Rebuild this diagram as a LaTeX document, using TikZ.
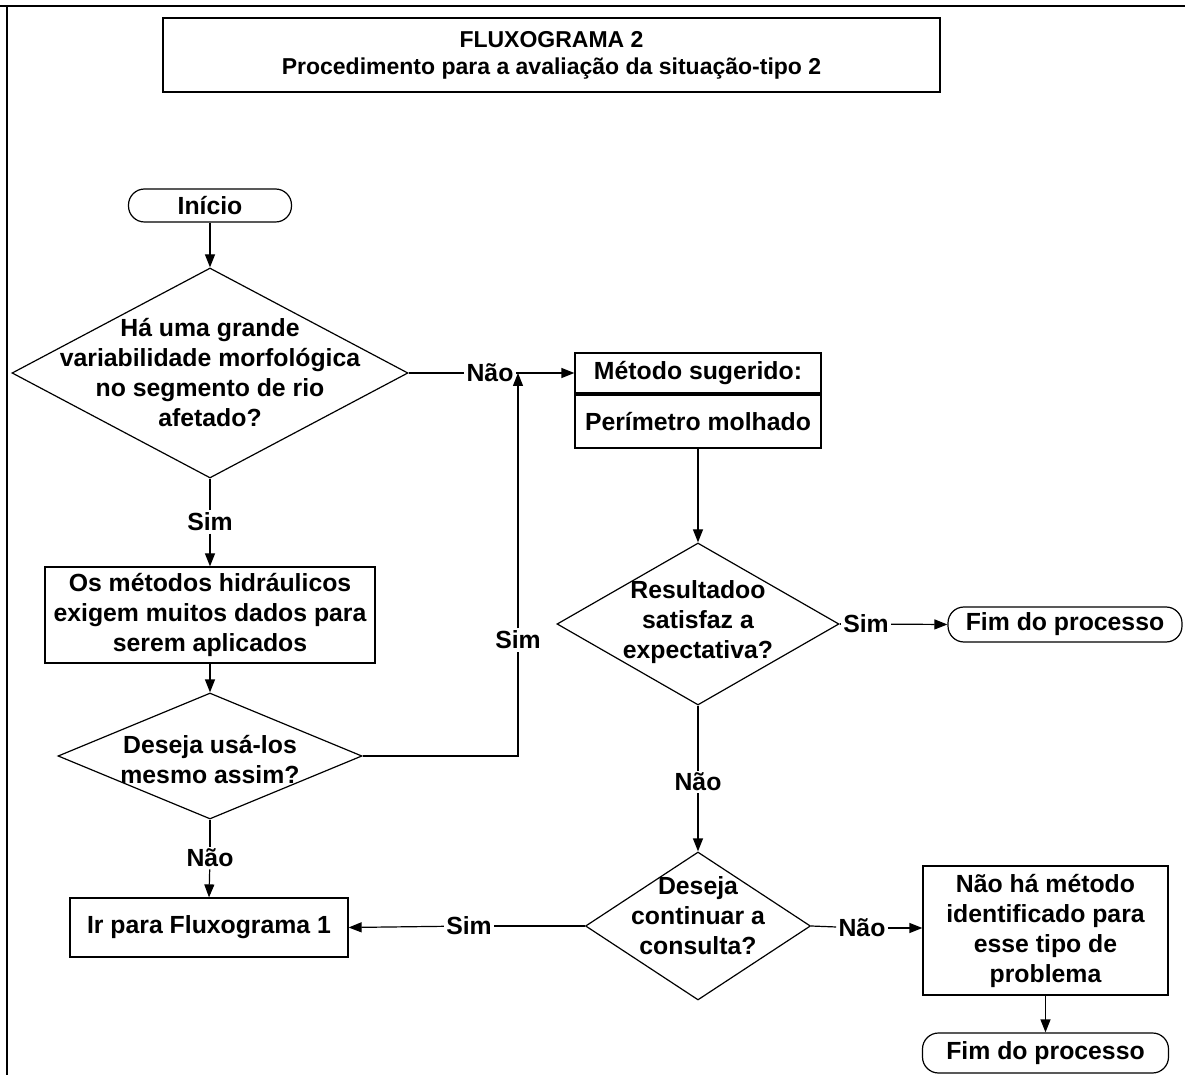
\documentclass[tikz,border=0pt]{standalone}
\usepackage{fontspec}
\setmainfont{Liberation Sans}
\usetikzlibrary{shapes.geometric}
\usetikzlibrary{arrows.meta}
\usetikzlibrary{positioning}

\begin{document}
\begin{tikzpicture}[x=0.5pt,y=-0.5pt,
  every node/.style={font=\bfseries\fontsize{12.4}{15}\selectfont, align=center},
  box/.style={draw, line width=0.6pt, inner sep=0pt},
  term/.style={draw, line width=0.6pt, inner sep=0pt, rounded corners=8pt},
  decision/.style={draw, line width=0.6pt, diamond, inner sep=0pt},
  answer/.style={inner sep=1pt},
  link/.style={line width=0.6pt},
  arr/.style={line width=0.6pt, -{Triangle[length=6.5pt,width=5pt]}},
]
\useasboundingbox (0,0) rectangle (1185,1075);
\draw [line width=1pt] (0,6) -- (1185,6);
\draw [line width=1pt] (7,6) -- (7,1075);

\node [box, minimum width=388.5pt, minimum height=37pt,
  font=\bfseries\fontsize{11.5}{13.5}\selectfont] (title) at (551.5,55)
  {FLUXOGRAMA 2\\Procedimento para a avaliação da situação-tipo 2};

% left column
\node [term, minimum width=81.5pt, minimum height=16.5pt] (inicio) at (210,205.5) {Início};
\node [decision, minimum width=198pt, minimum height=105pt] (d1) at (210,373) {};
\node (d1txt) at (d1) {Há uma grande\\variabilidade morfológica\\no segmento de rio\\afetado?};
\node [answer] (sim1) at (210,522) {Sim};
\node [box, minimum width=165pt, minimum height=48pt] (hidr) at (210,615)
  {Os métodos hidráulicos\\exigem muitos dados para\\serem aplicados};
\node [decision, minimum width=152pt, minimum height=63pt] (d2) at (210,756) {};
\node (d2txt) at (210,760) {Deseja usá-los\\mesmo assim?};
\node [answer] (nao2) at (210,858) {Não};
\node [box, minimum width=139pt, minimum height=29.5pt] (flux1) at (209,927.5) {Ir para Fluxograma 1};

% right column
\node [answer] (nao1) at (490,373) {Não};
\node [answer] (sim2) at (518,640) {Sim};
\coordinate (j1) at (518,373);
\node [box, minimum width=123pt, minimum height=20pt] (metodo) at (698,373) {Método sugerido:};
\node [box, minimum width=123pt, minimum height=26.5pt] (perim) at (698,421.5) {Perímetro molhado};
\node [decision, minimum width=141pt, minimum height=81pt] (d3) at (698,624) {};
\node (d3txt) at (698,622) {Resultadoo\\satisfaz a\\expectativa?};
\node [answer] (sim3) at (866,624) {Sim};
\node [term, minimum width=117pt, minimum height=17.5pt] (fim1) at (1065,624.5) {Fim do processo};
\node [answer] (nao3) at (698,782) {Não};
\node [decision, minimum width=112.5pt, minimum height=74pt] (d4) at (698,926) {};
\node (d4txt) at (698,916) {Deseja\\continuar a\\consulta?};
\node [answer] (sim4) at (469,926) {Sim};
\node [answer] (nao4) at (862,928) {Não};
\node [box, minimum width=122.5pt, minimum height=64.5pt] (semmet) at (1045.5,930.5)
  {Não há método\\identificado para\\esse tipo de\\problema};
\node [term, minimum width=123pt, minimum height=20pt] (fim2) at (1045.5,1053) {Fim do processo};

\draw [arr] (inicio.south) -- (d1.north);
\draw [link] (d1.south) -- (sim1);
\draw [arr] (sim1) -- (hidr.north);
\draw [arr] (hidr.south) -- (d2.north);
\draw [link] (d2.south) -- (nao2);
\draw [arr] (nao2) -- (flux1.north);

\draw [link] (d1.east) -- (nao1);
\draw [arr] (nao1) -- (metodo.west);
\draw [link] (d2.east) -| (sim2);
\draw [arr] (sim2) -- (j1);

\draw [arr] (perim.south) -- (d3.north);
\draw [link] (d3.east) -- (sim3);
\draw [arr] (sim3) -- (fim1.west);
\draw [link] (d3.south) -- (nao3);
\draw [arr] (nao3) -- (d4.north);
\draw [link] (d4.west) -- (sim4);
\draw [arr] (sim4) -- (flux1.east);
\draw [link] (d4.east) -- (nao4);
\draw [arr] (nao4) -- (semmet.west |- nao4);
\draw [arr] (semmet.south) -- (fim2.north);
\end{tikzpicture}
\end{document}
